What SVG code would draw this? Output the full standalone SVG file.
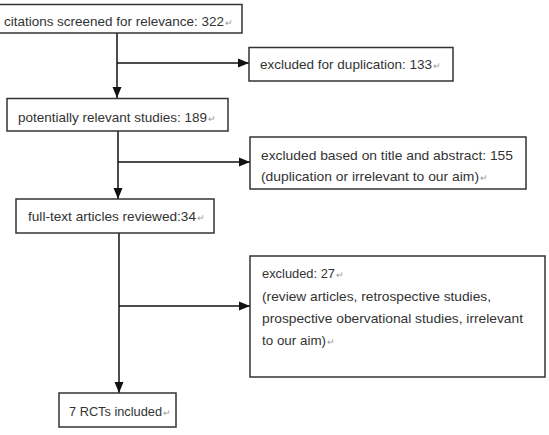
<svg xmlns="http://www.w3.org/2000/svg" width="549" height="435" viewBox="0 0 549 435">
<defs>
<marker id="arr" markerUnits="userSpaceOnUse" markerWidth="11" markerHeight="11" viewBox="0 0 11 11" refX="11" refY="5.5" orient="auto">
<path d="M0,1 L11,5.5 L0,10 Z" fill="#111"/>
</marker>
<style>
.box{fill:#fff;stroke:#333;stroke-width:1.5}
.t{font-family:"Liberation Sans",Arial,sans-serif;font-size:13px;fill:#333}
.p{font-family:"Liberation Sans",Arial,sans-serif;font-size:9px;fill:#999}
.c{fill:none;stroke:#111;stroke-width:1.5}
</style>
</defs>
<rect width="549" height="435" fill="#fff"/>
<g id="connectors">
<line class="c" x1="117" y1="33" x2="117" y2="98" marker-end="url(#arr)"/>
<line class="c" x1="117" y1="63" x2="249" y2="63" marker-end="url(#arr)"/>
<line class="c" x1="118" y1="131" x2="118" y2="199" marker-end="url(#arr)"/>
<line class="c" x1="118" y1="162" x2="250" y2="162" marker-end="url(#arr)"/>
<line class="c" x1="119" y1="233" x2="119" y2="393" marker-end="url(#arr)"/>
<line class="c" x1="119" y1="306" x2="250" y2="306" marker-end="url(#arr)"/>
</g>
<g id="n1">
<rect class="box" x="-2" y="4.5" width="244" height="28.5"/>
<text class="t" x="4" y="25.5" textLength="220" lengthAdjust="spacingAndGlyphs">citations screened for relevance: 322</text>
<text class="p" x="225" y="25.5">↵</text>
</g>
<g id="n2">
<rect class="box" x="249" y="47.5" width="204" height="33.5"/>
<text class="t" x="260" y="69" textLength="172" lengthAdjust="spacingAndGlyphs">excluded for duplication: 133</text>
<text class="p" x="433" y="69">↵</text>
</g>
<g id="n3">
<rect class="box" x="7" y="98.5" width="221" height="32.5"/>
<text class="t" x="18" y="122" textLength="189" lengthAdjust="spacingAndGlyphs">potentially relevant studies: 189</text>
<text class="p" x="208" y="122">↵</text>
</g>
<g id="n4">
<rect class="box" x="250" y="137" width="276" height="52"/>
<text class="t" x="261" y="160" textLength="252" lengthAdjust="spacingAndGlyphs">excluded based on title and abstract: 155</text>
<text class="t" x="261" y="181" textLength="218" lengthAdjust="spacingAndGlyphs">(duplication or irrelevant to our aim)</text>
<text class="p" x="480" y="181">↵</text>
</g>
<g id="n5">
<rect class="box" x="16" y="199" width="198" height="34"/>
<text class="t" x="28" y="221" textLength="168" lengthAdjust="spacingAndGlyphs">full-text articles reviewed:34</text>
<text class="p" x="197" y="221">↵</text>
</g>
<g id="n6">
<rect class="box" x="250" y="256" width="295" height="121"/>
<text class="t" x="262" y="278" textLength="73" lengthAdjust="spacingAndGlyphs">excluded: 27</text>
<text class="p" x="336" y="278">↵</text>
<text class="t" x="262" y="301" textLength="229" lengthAdjust="spacingAndGlyphs">(review articles,  retrospective studies,</text>
<text class="t" x="262" y="323" textLength="261" lengthAdjust="spacingAndGlyphs">prospective obervational  studies, irrelevant</text>
<text class="t" x="262" y="345" textLength="64" lengthAdjust="spacingAndGlyphs">to our aim)</text>
<text class="p" x="327" y="345">↵</text>
</g>
<g id="n7">
<rect class="box" x="59" y="393" width="117" height="34"/>
<text class="t" x="69" y="415.5" textLength="93" lengthAdjust="spacingAndGlyphs">7 RCTs included</text>
<text class="p" x="163" y="415.5">↵</text>
</g>
</svg>
